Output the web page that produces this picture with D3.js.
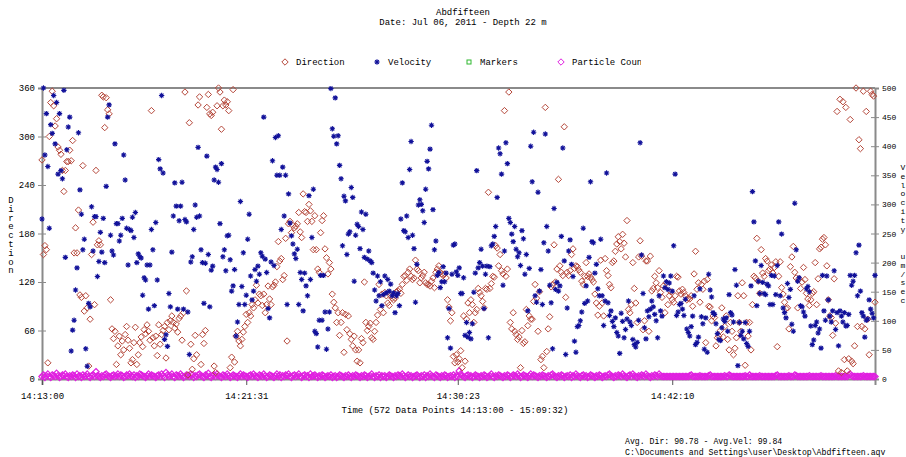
<!DOCTYPE html>
<html>
<head>
<meta charset="utf-8">
<script src="https://cdn.jsdelivr.net/npm/d3@7"></script>
<style>
body { margin: 0; background: #fff; }
text { font-family: "Liberation Mono", "DejaVu Sans Mono", monospace; font-size: 9px; fill: #000; }
</style>
</head>
<body>
<div id="chart"></div>
<script>
// ************** chart data *****************
var titleLines = ["Abdfifteen", "Date: Jul 06, 2011 - Depth 22 m"];
var seriesNames = ["Direction", "Velocity", "Markers", "Particle Count"];
var xTitle = "Time (572 Data Points 14:13:00 - 15:09:32)";
var leftTitle = "Direction";
var rightTitle = ["Velocity", "um/sec"];
var footerLines = ["Avg. Dir: 90.78 - Avg.Vel: 99.84", "C:\\Documents and Settings\\user\\Desktop\\Abdfifteen.aqv"];

var timeTickIndex  = [0, 140, 285, 432];
var timeTickLabels = ["14:13:00", "14:21:31", "14:30:23", "14:42:10"];
var dirTicks = [0, 60, 120, 180, 240, 300, 360];
var velTicks = [0, 50, 100, 150, 200, 250, 300, 350, 400, 450, 500];

// degrees, one per data point
var direction = [
271,154,165,160,20,300,342,356,338,313,322,287,283,278,258,232,258,269,269,283,270,295,156,187,156,209,104,101,264,84,103,88,16,74,154,194,92,258,166,171,166,351,349,311,348,333,328,98,62,50,59,18,41,53,30,47,36,55,65,48,38,20,24,45,64,18,30,45,52,40,61,56,67,59,48,332,51,41,53,29,67,43,55,60,65,26,70,61,72,78,70,63,68,58,75,
78,48,82,355,109,5,317,43,12,25,54,30,339,349,18,55,44,60,336,352,328,326,330,16,8,338,360,355,309,338,345,339,343,332,14,27,358,21,53,59,47,41,49,58,65,80,70,82,78,92,88,98,116,94,105,103,91,105,82,92,115,99,92,114,116,120,139,170,146,149,123,128,174,47,192,195,181,190,187,189,192,206,182,175,229,207,206,195,216,208,195,160,202,160,136,132,181,
196,202,161,150,130,144,136,105,95,88,70,82,54,70,82,33,80,61,78,56,49,41,53,36,22,36,20,50,45,120,70,60,65,69,51,49,59,70,79,117,86,105,82,107,103,94,91,103,100,98,100,108,109,111,106,117,127,128,122,132,136,127,123,125,147,136,134,119,125,128,132,119,117,117,115,121,125,113,132,136,140,132,130,128,130,125,98,89,72,82,28,20,30,21,25,35,
14,78,22,74,94,82,98,92,70,82,86,112,107,103,96,88,112,111,231,112,118,127,126,165,162,140,154,134,130,332,127,136,355,70,62,82,59,55,49,52,14,60,44,46,86,66,78,74,74,96,117,100,59,108,24,28,14,336,34,62,77,114,117,166,120,136,247,140,132,128,312,101,132,128,134,154,161,137,140,139,135,132,121,117,127,144,127,130,126,123,120,105,94,79,90,147,
94,78,149,134,128,117,113,144,146,158,167,176,170,161,179,168,151,196,86,82,92,144,112,94,70,151,171,152,61,72,146,146,59,152,109,112,127,119,113,134,107,101,115,82,119,92,103,108,98,95,103,127,126,109,105,111,107,103,98,100,99,103,90,130,158,111,119,95,117,111,121,45,123,90,89,72,78,76,41,51,53,60,88,52,65,78,49,36,70,59,30,38,51,103,70,59,
119,103,17,70,53,70,36,92,127,125,174,121,106,160,131,127,149,146,134,136,141,131,138,145,40,127,145,113,105,95,87,88,62,139,151,164,132,125,88,124,112,120,138,123,106,99,91,98,106,108,144,92,124,161,163,173,175,166,140,98,78,76,54,124,69,331,10,346,8,343,24,336,10,25,321,22,19,41,360,65,296,285,65,356,62,331,74,30,356,352,350,95
];

// velocity, one per data point
var velocity = [
275,500,385,456,365,259,437,422,487,404,475,352,456,358,344,496,209,394,433,450,48,84,101,153,191,423,325,283,222,240,52,22,130,124,296,220,279,279,176,202,252,218,276,200,331,450,471,247,220,213,404,267,267,237,247,276,385,342,259,196,257,255,278,243,286,200,215,210,208,144,174,170,196,120,196,257,222,126,269,170,377,361,487,354,68,76,56,147,124,218,280,337,297,120,272,
297,338,120,274,270,115,42,201,210,257,299,278,398,280,222,200,130,199,383,214,124,187,194,342,364,360,338,267,370,210,222,186,246,247,205,151,160,188,74,98,128,305,159,217,128,144,240,283,177,136,151,188,168,194,180,217,211,450,206,183,121,105,201,375,195,415,350,418,350,257,364,280,350,128,318,268,246,232,215,207,223,128,183,171,117,182,160,143,315,171,243,326,82,78,55,101,178,
101,178,115,51,86,115,499,430,417,483,404,418,367,344,229,314,306,214,249,253,329,312,168,247,266,262,224,287,257,209,283,206,220,203,200,182,153,134,177,143,167,126,145,177,148,171,151,163,143,148,114,143,147,126,275,337,255,253,280,243,360,408,247,224,132,197,299,308,300,289,269,326,374,361,395,436,291,222,237,178,183,157,167,193,167,182,71,121,53,180,230,232,184,178,191,147,
147,174,75,97,72,80,69,95,149,182,358,191,200,223,194,121,180,194,71,193,229,232,245,262,312,397,387,352,161,220,406,370,276,269,249,236,262,223,210,217,195,255,241,180,214,117,190,400,339,424,143,132,321,151,188,128,234,421,262,220,161,131,52,293,154,166,151,160,245,397,203,42,122,220,239,197,176,65,46,90,92,100,115,259,130,160,134,209,339,236,234,182,197,155,143,240,
143,92,134,354,131,109,117,99,90,105,80,74,44,113,99,71,85,103,134,98,92,68,59,55,63,101,406,213,147,88,69,117,107,120,134,124,111,100,71,143,117,108,177,157,167,154,165,177,151,229,352,109,115,128,130,120,109,137,86,80,74,90,108,143,59,63,72,155,107,95,51,105,46,180,153,141,114,111,95,78,68,66,88,103,99,105,82,145,114,110,98,188,161,23,97,75,
82,69,97,61,56,82,160,322,270,203,126,168,147,195,166,147,145,163,160,128,178,128,177,145,195,270,143,249,122,114,105,164,140,154,94,82,302,222,168,174,126,124,115,108,155,159,150,91,59,67,92,98,79,86,53,178,117,101,177,136,108,98,117,186,85,114,57,117,108,98,114,91,92,111,178,161,168,178,217,143,230,151,114,108,72,101,103,136,120,113,105,178
];

// particle count, one per data point
var particles = [
3,5,2,4,6,3,2,5,4,3,7,4,2,3,5,4,6,3,2,4,
3,5,4,2,6,3,4,2,5,3,4,6,3,2,4,5,3,9,4,3,
2,4,3,5,6,4,3,2,4,5,3,4,6,3,5,4,2,3,5,4,
6,4,3,5,2,4,3,6,5,4,3,2,4,6,3,5,4,3,2,4,
5,3,6,4,2,8,5,3,4,6,3,2,5,4,3,6,4,2,3,5,
4,3,6,5,2,4,3,5,6,4,3,2,5,4,7,3,2,4,5,3,
6,4,3,2,5,4,3,6,4,2,3,5,4,3,2,4,6,3,5,4,
3,2,4,5,3,6,4,3,2,5,4,3,6,4,2,3,5,4,3,2,
4,6,3,5,2,4,3,5,4,6,3,2,4,5,3,4,6,3,2,4,
5,3,4,2,6,3,4,5,3,2,4,3,5,4,2,3,4,3,5,2,
3,4,2,3,5,4,3,2,4,3,5,3,2,4,3,5,4,3,2,4,
3,5,4,2,3,4,6,3,2,4,3,5,2,4,3,4,2,3,5,4,
3,2,4,3,5,4,3,6,4,2,3,5,3,4,2,3,4,5,3,2,
4,3,5,2,4,3,6,4,3,2,5,4,3,2,4,3,5,4,2,3,
4,3,5,2,4,3,10,6,4,3,2,4,5,3,4,2,3,5,4,3,
2,4,3,5,4,2,3,4,6,3,2,4,3,5,4,3,2,4,3,5,
4,2,3,5,4,3,6,4,2,3,5,4,3,2,4,6,3,5,4,3,
2,4,3,5,4,3,2,4,3,5,6,4,3,2,4,3,5,4,2,3,
4,3,5,2,4,3,6,4,3,2,4,5,3,4,2,3,5,4,3,2,
4,3,5,4,2,3,4,3,5,6,4,3,2,4,3,5,4,3,6,4,
3,2,4,5,3,6,4,3,2,4,3,5,4,3,6,4,3,2,4,3,
5,4,3,6,4,3,3,3,3,3,3,3,3,3,3,3,3,3,3,3,
3,3,3,3,4,5,3,3,3,3,3,4,3,3,3,3,3,4,5,3,
3,3,3,3,3,3,3,3,4,3,3,5,4,3,3,3,3,3,3,3,
3,3,4,3,3,5,3,3,3,3,3,3,4,3,3,3,3,3,3,3,
3,3,3,4,5,3,3,3,3,3,3,3,4,3,3,3,5,4,3,3,
3,3,3,3,3,3,4,3,3,3,3,3,3,3,4,3,3,3,3,3,
3,3,3,3,4,3,3,3,3,3,3,3,3,5,6,4,3,3,3,3,
3,3,3,4,3,3,3,3,3,3,3,3
];

// ************** layout *****************
var width = 906, height = 457;
var plot = {left: 42, right: 875, top: 88, bottom: 379};
var axisColor = "#8a8a8a";
var dirColor = "#b5473a", velColor = "#12129a", markColor = "#2fb82f", partColor = "#e020e0";

var svg = d3.select("#chart").append("svg")
	.attr("width", width)
	.attr("height", height);

var x = d3.scaleLinear()
	.domain([0, direction.length - 1])
	.range([plot.left, plot.right]);
var yDir = d3.scaleLinear().domain([0, 360]).range([plot.bottom, plot.top]);
var yVel = d3.scaleLinear().domain([0, 500]).range([plot.bottom, plot.top]);

//	marker shapes
var diamondPath = "M0,-3.2L3.2,0L0,3.2L-3.2,0Z";
var starPath = "M-2.7,0L2.7,0M0,-2.7L0,2.7M-1.9,-1.9L1.9,1.9M-1.9,1.9L1.9,-1.9";

function drawDiamond(sel, color, w) {
	sel.append("path")
		.attr("d", diamondPath)
		.attr("fill", "none")
		.attr("stroke", color)
		.attr("stroke-width", w || 1);
}
function drawStar(sel, color) {
	sel.append("path")
		.attr("d", starPath)
		.attr("stroke", color)
		.attr("stroke-width", 1.1);
	sel.append("circle")
		.attr("r", 1.2)
		.attr("fill", color);
}

// titles
svg.selectAll(".title")
	.data(titleLines)
	.enter().append("text")
	.attr("x", 463)
	.attr("y", function(d, i) { return 15 + i * 10; })
	.style("text-anchor", "middle")
	.text(function(d) { return d; });

// legend
var legendX = [285, 377, 469, 561];
var legend = svg.selectAll(".legend")
	.data(seriesNames)
	.enter().append("g")
	.attr("transform", function(d, i) { return "translate(" + legendX[i] + ",62)"; });
legend.each(function(d, i) {
	var g = d3.select(this);
	if (i == 0) drawDiamond(g, dirColor);
	if (i == 1) drawStar(g, velColor);
	if (i == 2) g.append("rect").attr("x", -2).attr("y", -2).attr("width", 4).attr("height", 4)
		.attr("fill", "none").attr("stroke", markColor).attr("stroke-width", 1);
	if (i == 3) drawDiamond(g, partColor);
});
//	the last legend label is cut off in the original
legend.filter(function(d, i) { return i == 3; })
	.append("clipPath").attr("id", "legclip")
	.append("rect").attr("x", 10).attr("y", -10).attr("width", 70).attr("height", 20);
legend.append("text")
	.attr("x", 11)
	.attr("y", 3)
	.attr("clip-path", function(d, i) { return i == 3 ? "url(#legclip)" : null; })
	.text(function(d) { return d; });

// top frame line
svg.append("line")
	.attr("x1", plot.left).attr("x2", plot.right)
	.attr("y1", plot.top).attr("y2", plot.top)
	.attr("stroke", axisColor).attr("stroke-width", 2);

// left axis
var leftAxis = svg.append("g")
	.attr("transform", "translate(" + plot.left + ",0)")
	.call(d3.axisLeft(yDir).tickValues(dirTicks).tickSizeOuter(0).tickSize(4).tickPadding(3));
leftAxis.selectAll(".tick line").attr("x1", 4);

// right axis
var rightAxis = svg.append("g")
	.attr("transform", "translate(" + plot.right + ",0)")
	.call(d3.axisRight(yVel).tickValues(velTicks).tickSizeOuter(0).tickSize(4).tickPadding(3));
rightAxis.selectAll(".tick line").attr("x1", -4);

// bottom axis
var bottomAxis = svg.append("g")
	.attr("transform", "translate(0," + plot.bottom + ")")
	.call(d3.axisBottom(x).tickValues(timeTickIndex).tickSizeOuter(0).tickSize(6).tickPadding(8)
		.tickFormat(function(d, i) { return timeTickLabels[i]; }));

[leftAxis, rightAxis, bottomAxis].forEach(function(a) {
	a.select(".domain").attr("stroke", axisColor).attr("stroke-width", 2);
	a.selectAll(".tick line").attr("stroke", axisColor).attr("stroke-width", 1);
	a.selectAll("text").attr("font-family", null).attr("font-size", null).attr("fill", "#000");
});
bottomAxis.selectAll(".tick line").attr("stroke", "#555");
rightAxis.selectAll("text").style("font-size", "8px");

// axis titles
svg.append("text")
	.attr("x", 455).attr("y", 413)
	.style("text-anchor", "middle")
	.text(xTitle);

svg.selectAll(".ltitle")
	.data(leftTitle.split(""))
	.enter().append("text")
	.attr("x", 11)
	.attr("y", function(d, i) { return 203 + i * 8.8; })
	.style("text-anchor", "middle")
	.text(function(d) { return d; });

var rightChars = rightTitle[0].split("").map(function(c, i) { return {c: c, y: 170 + i * 8.8}; })
	.concat(rightTitle[1].split("").map(function(c, i) { return {c: c, y: 259 + i * 8.8}; }));
svg.selectAll(".rtitle")
	.data(rightChars)
	.enter().append("text")
	.attr("x", 903)
	.attr("y", function(d) { return d.y; })
	.style("text-anchor", "middle")
	.style("font-size", "8px")
	.text(function(d) { return d.c; });

// footer
svg.selectAll(".footer")
	.data(footerLines)
	.enter().append("text")
	.attr("x", 625)
	.attr("y", function(d, i) { return 444 + i * 11; })
	.style("font-size", "8.2px")
	.text(function(d) { return d; });

// ************** series *****************
var g = svg.append("g");

g.selectAll(".part")
	.data(particles)
	.enter().append("g")
	.attr("transform", function(d, i) { return "translate(" + x(i) + "," + yDir(d) + ")"; })
	.each(function() { drawDiamond(d3.select(this), partColor, 1.2); });

g.selectAll(".dir")
	.data(direction)
	.enter().append("g")
	.attr("transform", function(d, i) { return "translate(" + x(i) + "," + yDir(d) + ")"; })
	.each(function() { drawDiamond(d3.select(this), dirColor); });

g.selectAll(".vel")
	.data(velocity)
	.enter().append("g")
	.attr("transform", function(d, i) { return "translate(" + x(i) + "," + yVel(d) + ")"; })
	.each(function() { drawStar(d3.select(this), velColor); });
</script>
</body>
</html>
